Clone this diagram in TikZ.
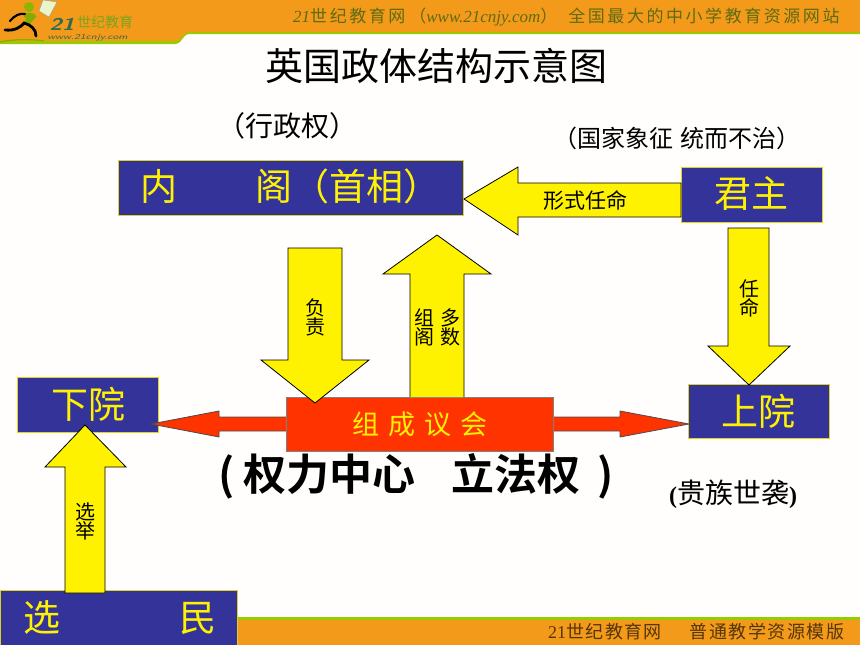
\documentclass[tikz,border=0pt]{standalone}
\usepackage{fontspec}
\setmainfont{Liberation Serif}
\newfontfamily\cjk{Noto Sans CJK SC}
\newfontfamily\cjkb{Noto Sans CJK SC Bold}
\newfontfamily\cjksp[LetterSpace=15]{Noto Sans CJK SC}
\newfontfamily\cjkft[LetterSpace=8]{Noto Sans CJK SC}
\definecolor{hdr}{HTML}{F39A1B}
\definecolor{lime}{HTML}{99CC00}
\definecolor{navy}{HTML}{333399}
\definecolor{redor}{HTML}{FF3300}
\definecolor{hdrtxt}{HTML}{5E6B12}
\definecolor{logoteal}{HTML}{2F6B50}
\definecolor{logogreen}{HTML}{7AA31E}
\newcommand{\fs}[1]{\fontsize{#1}{#1}\selectfont}
\tikzset{
  x=1pt,y=-1pt,
  bluebox/.style={draw=yellow!85!black,line width=1pt,fill=navy},
  yarrow/.style={draw=black,line width=0.8pt,fill=yellow},
  rarrow/.style={draw=black!70,line width=0.8pt,fill=redor},
  boxlabel/.style={text=yellow,inner sep=0pt,font=\cjk\fs{37}},
  arrowlabel/.style={text=black,inner sep=0pt,font=\cjk\fs{20},align=center},
  plainlabel/.style={text=black,inner sep=0pt,font=\cjk\fs{28}},
  hdrlabel/.style={text=hdrtxt,inner sep=0pt},
}
\begin{document}
\begin{tikzpicture}
\useasboundingbox (0,0) rectangle (860,645);
\fill[white!99!orange] (0,0) rectangle (860,645);
% header
\fill[lime] (0,44) -- (176,44) .. controls (182,44) and (182,34) .. (190,34) -- (860,34) -- (860,0) -- (0,0) -- cycle;
\fill[hdr] (0,41) -- (176,41) .. controls (182,41) and (182,32) .. (190,32) -- (860,32) -- (860,0) -- (0,0) -- cycle;
% logo
\fill[white!80!lime,draw=black!40,line width=0.4pt] (43,0) -- (57,2) -- (49,17) -- (39,11) -- cycle;
\fill[lime!90!black] (29,7) circle (5);
\fill[lime!85!black] (25,14) .. controls (32,11) and (37,15) .. (36,17) -- (29,25) -- (24,22) .. controls (27,19) and (27,18) .. (24,17) -- cycle;
\draw[black,line width=2.2pt,line cap=round] (10,21) .. controls (15,15) and (20,13) .. (25,14);
\draw[black,line width=2.8pt,line cap=round] (5,30) .. controls (15,31) and (21,27) .. (24,23) .. controls (31,25) and (36,29) .. (36,36);
\draw[lime!85!black,line width=1.2pt] (0,42) .. controls (15,39) and (30,39) .. (44,41);
\node[hdrlabel,anchor=west,font=\sffamily\bfseries\itshape\fs{17},text=logoteal,xscale=1.35,transform shape] (lg1) at (49,24) {21};
\node[hdrlabel,anchor=west,font=\cjk\fs{14},text=logogreen] (lg2) at (77,22.5) {世纪教育};
\node[hdrlabel,anchor=west,font=\sffamily\itshape\fs{7.5},text=logoteal,xscale=1.45,transform shape] (lg3) at (47,37.5) {www.21cnjy.com};
\node[hdrlabel,anchor=west] (hd) at (293,17) {\fs{17}\itshape 21\cjksp\upshape 世纪教育网\hspace{4pt}（\rmfamily\itshape www.21cnjy.com\cjksp\upshape ）\hspace{11pt}全国最大的中小学教育资源网站};
% footer
\fill[lime] (237,617) rectangle (860,645);
\fill[hdr] (237,620) rectangle (860,645);
\node[hdrlabel,anchor=west,text=black!65!hdr] (ft) at (548,632) {\fs{18}21\cjkft 世纪教育网\hspace{28pt}普通教学资源模版};
% title
\node[inner sep=0pt,font=\cjk\fs{38}] (title) at (436,66) {英国政体结构示意图};
% boxes
\node[bluebox,minimum width=345,minimum height=55,inner sep=0pt] (cab) at (290.5,187.5) {};
\node[boxlabel,anchor=west] (cabt) at (140,186) {内\hspace{78pt}阁（首相）};
\node[bluebox,minimum width=141,minimum height=55,inner sep=0pt] (mon) at (751.5,194.5) {};
\node[boxlabel] (mont) at (751,194) {君主};
\node[bluebox,minimum width=141,minimum height=54,inner sep=0pt] (lords) at (758.5,411) {};
\node[boxlabel] (lordst) at (758,411) {上院};
\node[bluebox,minimum width=141,minimum height=55,inner sep=0pt] (commons) at (87.5,404.5) {};
\node[boxlabel] (commonst) at (88,404) {下院};
\node[bluebox,minimum width=237,minimum height=55,inner sep=0pt] (voters) at (118.5,617.5) {};
\node[boxlabel,anchor=west] (voterst) at (23,618) {选\hspace{119pt}民};
% red double arrow
\draw[rarrow] (151,424) -- (219,411) -- (219,417) -- (620,417) -- (620,411) -- (689,424) -- (620,437) -- (620,431) -- (219,431) -- (219,437) -- cycle;
\node[draw=black!50,line width=0.8pt,fill=redor,minimum width=267,minimum height=54,inner sep=0pt] (parl) at (419.5,424) {};
\node[text=yellow,inner sep=0pt,font=\cjk\fs{27}] (parlt) at (420,424) {组\hspace{9pt}成\hspace{9pt}议\hspace{9pt}会};
% yellow arrows
\draw[yarrow] (681,183) -- (518,183) -- (518,167) -- (464,199) -- (518,235) -- (518,217) -- (681,217) -- cycle;
\draw[yarrow] (728,228) -- (769,228) -- (769,346) -- (790,346) -- (749,385) -- (708,346) -- (728,346) -- cycle;
\draw[yarrow] (288,248) -- (342,248) -- (342,360) -- (369,360) -- (315,403) -- (261,360) -- (288,360) -- cycle;
\fill[yellow] (410,274) rectangle (464,397);
\draw[yarrow] (410,397) -- (410,274) -- (383,274) -- (437,235) -- (491,274) -- (464,274) -- (464,397);
\draw[yarrow] (65,593) -- (65,467) -- (45,467) -- (85,425) -- (126,467) -- (105,467) -- (105,593) -- cycle;
% arrow labels
\node[arrowlabel,font=\cjk\fs{21}] (l1) at (585,200) {形式任命};
\node[arrowlabel] (l2) at (749,298) {任\\[-1pt]命};
\node[arrowlabel] (l3) at (315,317) {负\\[-1pt]责};
\node[arrowlabel] (l4) at (424,327) {组\\[-1pt]阁};
\node[arrowlabel] (l5) at (450,327) {多\\[-1pt]数};
\node[arrowlabel] (l6) at (85,521) {选\\[-1pt]举};
% free labels
\node[plainlabel] (exec) at (287,126) {（行政权）};
\node[plainlabel,font=\cjk\fs{24}] (sym) at (677,138) {（国家象征\hspace{8pt}统而不治）};
\node[inner sep=0pt,font=\cjkb\fs{43},anchor=west] (power) at (218,476) {(\hspace{9pt}权力中心\hspace{36pt}立法权\hspace{17pt})};
\node[inner sep=0pt,font=\cjk\fs{28},anchor=west] (peer) at (669,494) {\rmfamily\bfseries\fs{24}(\cjk\mdseries\fs{28}贵族世袭\rmfamily\bfseries\fs{24})};
\end{tikzpicture}
\end{document}
